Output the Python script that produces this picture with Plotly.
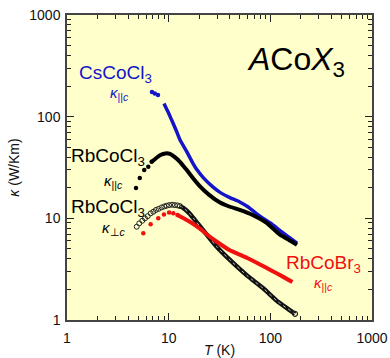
import plotly.graph_objects as go

# ---------------- data ----------------
# CsCoCl3, kappa || c (blue)
cs_dots_T = [6.85, 7.3, 7.85]
cs_dots_k = [175, 169, 163]
cs_T = [9.0, 9.5, 10, 11, 12, 13, 15, 17, 19, 22, 27, 32, 40, 50, 60, 79, 100, 124, 150, 183]
cs_k = [135, 120, 108, 87, 71, 58.5, 45.5, 36, 30, 25, 20.5, 18, 16, 14.5, 13, 10.5, 9.0, 7.6, 6.6, 5.7]

# RbCoCl3, kappa || c (black filled)
rbp_dots_T = [4.77, 5.2, 5.75, 6.3, 6.8]
rbp_dots_k = [19.9, 24.9, 29.8, 32.2, 36.0]
rbp_T = [6.8, 7.5, 8.3, 9.3, 10.3, 11.5, 12.9, 15, 17, 20, 25, 32, 40, 50, 67, 92, 124, 150, 183]
rbp_k = [36.0, 39, 42, 43.5, 43, 40, 36, 30, 25.5, 21, 17, 14.3, 13, 12.1, 10.8, 9.0, 6.9, 6.2, 5.5]

# RbCoCl3, kappa perp c (black open)
rbo_dots_T = [4.85, 5.14, 5.50, 5.85, 6.22, 6.65, 7.06, 7.50, 7.97, 8.53, 9.05, 9.55, 10.1, 10.8, 11.5, 12.2, 12.9]
rbo_dots_k = [8.27, 8.93, 9.47, 10.0, 10.5, 11.2, 11.6, 12.1, 12.4, 12.8, 13.1, 13.3, 13.5, 13.6, 13.5, 13.4, 13.2]
rbo_T = [12.9, 14, 16, 18, 20, 24, 30, 40, 60, 85, 120, 150, 175]
rbo_k = [13.2, 12.6, 11.2, 9.7, 8.5, 6.8, 5.2, 3.9, 2.7, 2.05, 1.5, 1.28, 1.15]

# RbCoBr3, kappa || c (red)
rbb_dots_T = [5.63, 6.65, 7.9, 8.99, 10.1, 11.1, 12.2]
rbb_dots_k = [7.12, 8.73, 10.0, 10.9, 11.4, 11.2, 10.8]
rbb_T = [12.2, 14, 16, 20, 24, 30, 40, 50, 60, 80, 100, 130, 165]
rbb_k = [10.8, 10.0, 9.3, 8.0, 6.9, 5.85, 4.85, 4.4, 4.05, 3.5, 3.1, 2.7, 2.36]

# axis ticks
tick_vals = [1, 10, 100, 1000]
tick_text = ["1", "10", "100", "1000"]
minor_vals = [2, 3, 4, 5, 6, 7, 8, 9,
              20, 30, 40, 50, 60, 70, 80, 90,
              200, 300, 400, 500, 600, 700, 800, 900]

BLUE = "#1414C8"
RED = "#F01010"
BLACK = "#000000"
FONT = "Liberation Sans, Arial, Helvetica, sans-serif"

fig = go.Figure()

def dense(T, k, color, width, dash=None):
    fig.add_trace(go.Scatter(x=T, y=k, mode="lines",
                             line=dict(color=color, width=width, shape="spline", smoothing=0.5, dash=dash),
                             hoverinfo="skip", showlegend=False))

def dots(T, k, color, size=5, symbol="circle", lw=0):
    fig.add_trace(go.Scatter(x=T, y=k, mode="markers",
                             marker=dict(color=color, size=size, symbol=symbol, line=dict(width=lw, color=color)),
                             hoverinfo="skip", showlegend=False))

# CsCoCl3
dots(cs_dots_T, cs_dots_k, BLUE, 4.5)
dense(cs_T, cs_k, BLUE, 3.5)
# RbCoCl3 || c
dots(rbp_dots_T, rbp_dots_k, BLACK, 4.5)
dense(rbp_T, rbp_k, BLACK, 4)
# RbCoCl3 perp c (open)
dense(rbo_T, rbo_k, "#111111", 4.5)
dense(rbo_T, rbo_k, "#BBBBBB", 1, "dot")
dots(rbo_dots_T, rbo_dots_k, "#222222", 5, "circle-open", 1)
dots([rbo_T[-1]], [rbo_k[-1]], "#222222", 5, "circle-open", 1.2)
# RbCoBr3
dots(rbb_dots_T, rbb_dots_k, RED, 4.5)
dense(rbb_T, rbb_k, RED, 4)

# ---------------- annotations ----------------
def px(xp, yp):
    return (xp - 67) / 305.0, (320 - yp) / 305.0

def ann(text, xp, yp, color, size, xanchor="center"):
    x, y = px(xp, yp)
    fig.add_annotation(x=x, y=y, xref="paper", yref="paper", text=text, showarrow=False,
                       xanchor=xanchor, yanchor="middle", font=dict(family=FONT, size=size, color=color))

ann("CsCoCl<sub>3</sub>", 115, 74, BLUE, 19)
ann("<i>κ</i><sub>||<i>c</i></sub>", 119, 93, BLUE, 15)
ann("RbCoCl<sub>3</sub>", 108, 157, BLACK, 19)
ann("<i>κ</i><sub>||<i>c</i></sub>", 113, 181, BLACK, 15)
ann("RbCoCl<sub>3</sub>", 108, 208, BLACK, 19)
ann("<i>κ</i><sub>⊥<i>c</i></sub>", 114, 228, BLACK, 15)
ann("RbCoBr<sub>3</sub>", 323, 264, RED, 19)
ann("<i>κ</i><sub>||<i>c</i></sub>", 323, 283, RED, 15)
ann("<i>A</i>Co<i>X</i><sub>3</sub>", 296, 62, BLACK, 32)

axis_common = dict(
    type="log", range=[0, 3], tickmode="array", tickvals=tick_vals, ticktext=tick_text,
    ticks="inside", ticklen=7, tickwidth=1.3, tickcolor="#222",
    showline=True, linecolor="#444", linewidth=1.5, mirror="allticks",
    showgrid=False, zeroline=False, automargin=False,
    minor=dict(tickmode="array", tickvals=minor_vals, ticks="inside", ticklen=4,
               tickwidth=1.2, tickcolor="#222", showgrid=False),
    tickfont=dict(family=FONT, size=14, color="#111"),
)

fig.update_xaxes(**axis_common, ticklabelstandoff=4,
                 title=dict(text="<i>T</i> (K)", font=dict(family=FONT, size=14, color="#111"), standoff=6))
fig.update_yaxes(**axis_common, ticklabelstandoff=2,
                 title=dict(text="<i>κ</i> (W/Km)", font=dict(family=FONT, size=14, color="#111"), standoff=6))

fig.update_layout(
    width=390, height=358,
    margin=dict(l=67, r=18, t=15, b=38),
    plot_bgcolor="#FFFFCC", paper_bgcolor="#FFFFFF",
    font=dict(family=FONT),
)

fig.write_html("out.html")
